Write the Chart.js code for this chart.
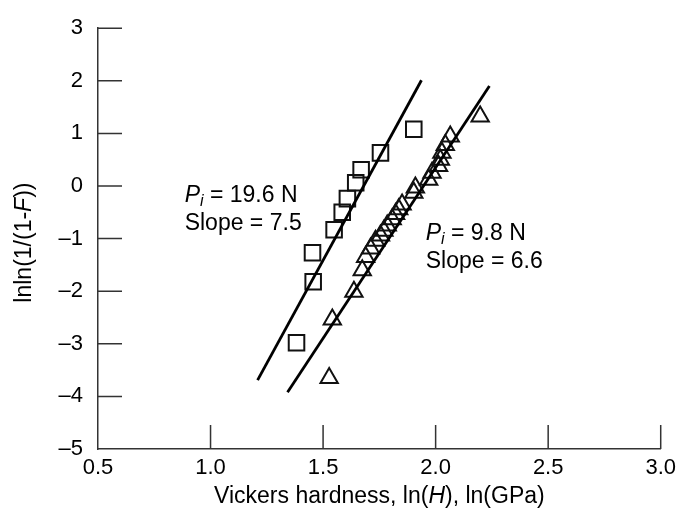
<!DOCTYPE html>
<html>
<head>
<meta charset="utf-8">
<script src="https://cdn.jsdelivr.net/npm/chart.js@4.4.1/dist/chart.umd.min.js"></script>
<style>
  html, body { margin: 0; padding: 0; background: #fff; }
  canvas { display: block; }
</style>
</head>
<body>
<canvas id="weibullChart" width="682" height="510"></canvas>
<script>
// Pi = 19.6 N (squares)
const squaresX = [1.903, 1.755, 1.669, 1.645, 1.608, 1.585, 1.549, 1.453, 1.456, 1.382];
const squaresY = [1.08, 0.63, 0.31, 0.06, -0.24, -0.50, -0.83, -1.27, -1.82, -2.98];

// Pi = 9.8 N (triangles)
const trianglesX = [2.198, 2.065, 2.043, 2.028, 2.021, 2.013, 1.984, 1.969, 1.910, 1.903,
  1.851, 1.836, 1.822, 1.807, 1.785, 1.770, 1.755, 1.733, 1.711, 1.689, 1.674, 1.637, 1.541, 1.527];
const trianglesY = [1.32, 0.94, 0.78, 0.63, 0.50, 0.38, 0.25, 0.12, -0.03, -0.13,
  -0.35, -0.44, -0.53, -0.63, -0.75, -0.85, -0.94, -1.04, -1.19, -1.35, -1.60, -2.01, -2.54, -3.65];

// fitted lines (end points)
const fitLeftX = [1.209, 1.937];
const fitLeftY = [-3.69, 2.01];
const fitRightX = [1.342, 2.239];
const fitRightY = [-3.92, 1.90];

const xTicks = [0.5, 1.0, 1.5, 2.0, 2.5, 3.0];
const yTicks = [-5, -4, -3, -2, -1, 0, 1, 2, 3];

const FONT = "'Liberation Sans', Arial, Helvetica, sans-serif";

function toPoints(xs, ys) {
  return xs.map((x, i) => ({ x: x, y: ys[i] }));
}

// inward tick marks
const innerTicks = {
  id: "innerTicks",
  afterDatasetsDraw(chart) {
    const { ctx, scales: { x, y } } = chart;
    ctx.save();
    ctx.strokeStyle = "#333";
    ctx.lineWidth = 1.5;
    ctx.beginPath();
    xTicks.slice(1).forEach(v => {
      const px = x.getPixelForValue(v);
      ctx.moveTo(px, y.bottom);
      ctx.lineTo(px, y.bottom - 24);
    });
    yTicks.slice(1).forEach(v => {
      const py = y.getPixelForValue(v);
      ctx.moveTo(x.left, py);
      ctx.lineTo(x.left + 24, py);
    });
    ctx.stroke();
    ctx.restore();
  }
};

// draw a run of [text, italic] pieces, centred on (cx, cy)
function drawRuns(ctx, runs, cx, cy, size) {
  const widths = runs.map(r => {
    ctx.font = (r[1] ? "italic " : "") + size + "px " + FONT;
    return ctx.measureText(r[0]).width;
  });
  const total = widths.reduce((a, b) => a + b, 0);
  let px = cx - total / 2;
  ctx.textAlign = "left";
  ctx.textBaseline = "middle";
  runs.forEach((r, i) => {
    ctx.font = (r[1] ? "italic " : "") + size + "px " + FONT;
    ctx.fillText(r[0], px, cy);
    px += widths[i];
  });
}

// P_i / slope labels
function drawLabel(ctx, left, top, load, slope) {
  ctx.fillStyle = "#000";
  ctx.textBaseline = "middle";
  ctx.textAlign = "left";
  let px = left;
  ctx.font = "italic 23px " + FONT;
  ctx.fillText("P", px, top);
  px += ctx.measureText("P").width;
  ctx.font = "italic 16px " + FONT;
  ctx.fillText("i", px, top + 6);
  px += ctx.measureText("i").width;
  ctx.font = "23px " + FONT;
  ctx.fillText(" = " + load, px, top);
  ctx.fillText("Slope = " + slope, left, top + 28);
}

const annotations = {
  id: "annotations",
  afterDraw(chart) {
    const { ctx, scales: { x, y } } = chart;
    ctx.save();
    drawLabel(ctx, x.getPixelForValue(0.885), y.getPixelForValue(-0.18), "19.6 N", "7.5");
    drawLabel(ctx, x.getPixelForValue(1.956), y.getPixelForValue(-0.90), "9.8 N", "6.6");

    // axis titles with italic symbols
    ctx.fillStyle = "#000";
    drawRuns(ctx, [["Vickers hardness, ln(", false], ["H", true], ["), ln(GPa)", false]],
      (x.left + x.right) / 2, 497, 23);
    ctx.translate(25, (y.top + y.bottom) / 2 + 4);
    ctx.rotate(-Math.PI / 2);
    drawRuns(ctx, [["lnln(1/(1-", false], ["F", true], ["))", false]], 0, 0, 23);
    ctx.restore();
  }
};

new Chart(document.getElementById("weibullChart").getContext("2d"), {
  type: "scatter",
  data: {
    datasets: [
      {
        label: "fit 19.6 N",
        data: toPoints(fitLeftX, fitLeftY),
        showLine: true,
        borderColor: "#000",
        borderWidth: 2.8,
        pointRadius: 0
      },
      {
        label: "fit 9.8 N",
        data: toPoints(fitRightX, fitRightY),
        showLine: true,
        borderColor: "#000",
        borderWidth: 2.8,
        pointRadius: 0
      },
      {
        label: "19.6 N",
        data: toPoints(squaresX, squaresY),
        pointStyle: "rect",
        pointRadius: 11,
        borderColor: "#111",
        borderWidth: 2,
        backgroundColor: "rgba(0,0,0,0)"
      },
      {
        label: "9.8 N",
        data: toPoints(trianglesX, trianglesY),
        pointStyle: "triangle",
        pointRadius: 10,
        borderColor: "#111",
        borderWidth: 2,
        backgroundColor: "rgba(0,0,0,0)"
      }
    ]
  },
  options: {
    responsive: false,
    animation: false,
    layout: { padding: { left: 0, top: 24, right: 19, bottom: 0 } },
    plugins: {
      legend: { display: false },
      tooltip: { enabled: false }
    },
    scales: {
      x: {
        type: "linear",
        min: 0.5,
        max: 3.0,
        afterFit(scale) { scale.height = 61; },
        afterBuildTicks(scale) { scale.ticks = xTicks.map(v => ({ value: v })); },
        border: { color: "#333", width: 1.5 },
        grid: { drawOnChartArea: false, drawTicks: false },
        ticks: {
          padding: 6,
          color: "#000",
          font: { family: FONT, size: 22 },
          callback: v => v.toFixed(1)
        }
      },
      y: {
        type: "linear",
        min: -5,
        max: 3,
        afterFit(scale) { scale.width = 98; },
        afterBuildTicks(scale) { scale.ticks = yTicks.map(v => ({ value: v })); },
        border: { color: "#333", width: 1.5 },
        grid: { drawOnChartArea: false, drawTicks: false },
        ticks: {
          padding: 15,
          color: "#000",
          font: { family: FONT, size: 22 },
          callback: v => String(v).replace("-", "\u2013")
        }
      }
    }
  },
  plugins: [innerTicks, annotations]
});
</script>
</body>
</html>
